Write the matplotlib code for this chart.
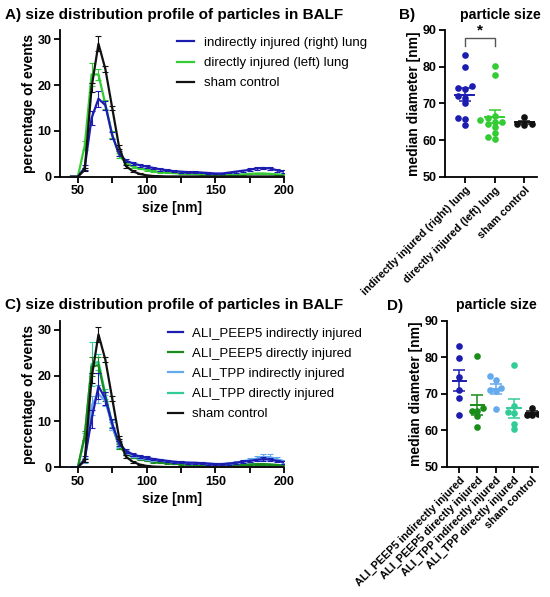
import numpy as np
import matplotlib
matplotlib.use("Agg")
import matplotlib.pyplot as plt

plt.rcParams["font.family"] = ["Liberation Sans", "DejaVu Sans"]
plt.rcParams["font.weight"] = "bold"
plt.rcParams["axes.labelweight"] = "bold"

# ---- data -------------------------------------------------------------
size_nm = np.arange(45, 201, 5)

# panel A: % of events (mean, SEM)
a_indirect = [0, 0, 2.0, 12.8, 17.0, 15.6, 9.0, 5.0, 3.5, 2.9, 2.5, 2.2, 1.9, 1.6, 1.4, 1.2,
              1.1, 1.0, 1.0, 0.9, 0.8, 0.7, 0.7, 0.9, 1.1, 1.3, 1.5, 1.8, 1.9, 1.8, 1.4, 1.1]
a_indirect_err = [0, 0, 0.5, 1.5, 1.7, 1.0, 0.8, 0.5, 0.4, 0.3, 0.3, 0.3, 0.3, 0.3, 0.2, 0.2,
                  0.2, 0.2, 0.2, 0.2, 0.2, 0.2, 0.2, 0.2, 0.2, 0.2, 0.3, 0.3, 0.3, 0.3, 0.3, 0.3]
a_direct = [0, 0, 6.8, 22.3, 22.3, 15.8, 9.2, 4.6, 3.0, 2.2, 1.8, 1.5, 1.2, 1.0, 0.9, 0.8,
            0.7, 0.6, 0.6, 0.5, 0.5, 0.5, 0.4, 0.4, 0.5, 0.5, 0.6, 0.7, 0.7, 0.6, 0.5, 0.4]
a_direct_err = [0, 0, 1.0, 2.5, 1.3, 1.0, 0.8, 0.5, 0.3, 0.2, 0.2, 0.2, 0.2, 0.1, 0.1, 0.1,
                0.1, 0.1, 0.1, 0.1, 0.1, 0.1, 0.1, 0.1, 0.1, 0.1, 0.1, 0.1, 0.1, 0.1, 0.1, 0.1]
sham = [0, 0, 1.5, 19.5, 29.0, 23.5, 15.0, 6.5, 2.3, 1.2, 0.6, 0.3, 0.15, 0.1, 0.05, 0.05,
        0.05, 0.05, 0.05, 0.05, 0.05, 0.05, 0.05, 0.05, 0.05, 0.05, 0.05, 0.05, 0.05, 0.05, 0.05, 0.05]
sham_err = [0, 0, 0.3, 1.0, 1.6, 0.6, 0.5, 0.4, 0.3, 0.2, 0.1, 0.1, 0.05, 0.05, 0.05, 0.05,
            0.05, 0.05, 0.05, 0.05, 0.05, 0.05, 0.05, 0.05, 0.05, 0.05, 0.05, 0.05, 0.05, 0.05, 0.05, 0.05]

# panel C
peep5_ind = [0, 0, 1.8, 10.5, 17.7, 15.0, 9.5, 5.2, 3.6, 2.8, 2.4, 2.1, 1.8, 1.6, 1.4, 1.2,
             1.1, 1.0, 1.0, 0.9, 0.8, 0.7, 0.7, 0.8, 1.0, 1.2, 1.4, 1.6, 1.8, 1.7, 1.4, 1.1]
peep5_ind_err = [0, 0, 0.6, 2.0, 2.8, 1.5, 1.0, 0.6, 0.4, 0.4, 0.3, 0.3, 0.3, 0.3, 0.2, 0.2,
                 0.2, 0.2, 0.2, 0.2, 0.2, 0.2, 0.2, 0.2, 0.2, 0.3, 0.3, 0.3, 0.4, 0.4, 0.3, 0.3]
peep5_dir = [0, 0, 7.0, 22.0, 22.3, 15.5, 9.0, 4.6, 3.0, 2.2, 1.8, 1.5, 1.2, 1.0, 0.9, 0.8,
             0.7, 0.6, 0.6, 0.5, 0.5, 0.5, 0.4, 0.4, 0.5, 0.5, 0.6, 0.7, 0.7, 0.6, 0.5, 0.4]
peep5_dir_err = [0, 0, 1.0, 2.0, 1.8, 1.0, 0.8, 0.5, 0.3, 0.2, 0.2, 0.2, 0.2, 0.1, 0.1, 0.1,
                 0.1, 0.1, 0.1, 0.1, 0.1, 0.1, 0.1, 0.1, 0.1, 0.1, 0.1, 0.1, 0.1, 0.1, 0.1, 0.1]
tpp_ind = [0, 0, 1.5, 13.5, 16.0, 14.5, 9.0, 5.0, 3.4, 2.6, 2.2, 1.9, 1.7, 1.5, 1.3, 1.2,
           1.1, 1.0, 0.9, 0.9, 0.8, 0.7, 0.7, 0.8, 1.0, 1.3, 1.6, 1.9, 2.3, 2.2, 1.8, 1.3]
tpp_ind_err = [0, 0, 0.5, 2.0, 2.0, 1.2, 0.8, 0.5, 0.4, 0.3, 0.3, 0.3, 0.3, 0.2, 0.2, 0.2,
               0.2, 0.2, 0.2, 0.2, 0.2, 0.2, 0.2, 0.3, 0.3, 0.4, 0.5, 0.6, 0.7, 0.7, 0.5, 0.4]
tpp_dir = [0, 0, 6.5, 22.5, 23.0, 16.0, 9.5, 4.8, 3.2, 2.4, 1.9, 1.6, 1.3, 1.1, 1.0, 0.9,
           0.8, 0.7, 0.6, 0.6, 0.5, 0.5, 0.5, 0.5, 0.5, 0.6, 0.6, 0.7, 0.7, 0.6, 0.5, 0.4]
tpp_dir_err = [0, 0, 1.0, 4.8, 1.8, 1.2, 0.8, 0.5, 0.3, 0.3, 0.2, 0.2, 0.2, 0.1, 0.1, 0.1,
               0.1, 0.1, 0.1, 0.1, 0.1, 0.1, 0.1, 0.1, 0.1, 0.1, 0.1, 0.1, 0.1, 0.1, 0.1, 0.1]

# panel B: median diameter per animal [nm]
b_labels = ["indirectly injured (right) lung", "directly injured (left) lung", "sham control"]
b_indirect = [83.2, 79.8, 74.8, 74.3, 73.8, 72.0, 71.5, 70.0, 66.0, 65.7, 64.2]
b_direct = [80.2, 77.8, 66.5, 65.9, 65.5, 65.0, 64.8, 64.5, 63.5, 62.0, 60.7, 60.3]
b_sham = [66.2, 64.5, 64.3, 64.2]

# panel D
d_labels = ["ALI_PEEP5 indirectly injured", "ALI_PEEP5 directly injured",
            "ALI_TPP indirectly injured", "ALI_TPP directly injured", "sham control"]
d_peep5_ind = [83.2, 79.8, 74.5, 71.0, 68.8, 64.2]
d_peep5_dir = [80.2, 66.0, 65.2, 65.2, 63.8, 60.8]
d_tpp_ind = [74.8, 73.8, 71.5, 71.0, 70.8, 65.9]
d_tpp_dir = [77.8, 66.6, 65.0, 64.6, 61.8, 60.2]
d_sham = [66.2, 64.5, 64.3, 64.2]

BLUE = "#1c1cb0"
GREEN = "#33cc33"
DKGREEN = "#1a8c1a"
LTBLUE = "#66aaee"
TEAL = "#33cc99"
BLACK = "#111111"


def style_axis(ax):
    for s in ["top", "right"]:
        ax.spines[s].set_visible(False)
    for s in ["left", "bottom"]:
        ax.spines[s].set_linewidth(1.3)
    ax.tick_params(which="both", width=1.3, length=4.5, labelsize=9, pad=1.5)
    for lab in ax.get_xticklabels() + ax.get_yticklabels():
        lab.set_fontweight("bold")


def curve_panel(ax, series):
    for y, err, color, label, z in series:
        ax.plot(size_nm, y, color=color, lw=1.6, label=label, zorder=z)
        ax.errorbar(size_nm, y, yerr=err, fmt="none", ecolor=color, elinewidth=0.8,
                    capsize=2.2, capthick=0.8, zorder=z)
    ax.set_xlim(37, 200)
    ax.set_ylim(0, 32)
    ax.set_xticks([50, 100, 150, 200])
    ax.set_xticks([75, 125, 175], minor=True)
    ax.set_yticks([0, 10, 20, 30])
    ax.set_xlabel("size [nm]", fontsize=10, labelpad=3)
    ax.set_ylabel("percentage of events", fontsize=10, labelpad=1)
    style_axis(ax)


def swarm(vals, step, thr):
    vals = np.asarray(vals, float)
    offs = np.zeros(len(vals))
    placed = []
    for i in np.argsort(vals):
        for k in [0, -1, 1, -2, 2, -3, 3]:
            o = k * step
            if all(abs(vals[i] - pv) > thr or abs(o - po) > step * 0.9 for pv, po in placed):
                offs[i] = o
                placed.append((vals[i], o))
                break
    return offs


def dot_panel(ax, groups, colors, labels, step, halfw, ms):
    for i, (vals, c) in enumerate(zip(groups, colors)):
        vals = np.asarray(vals)
        ax.plot(i + swarm(vals, step, 1.3), vals, "o", color=c, ms=ms, mec="none", zorder=3)
        m = vals.mean()
        sem = vals.std(ddof=1) / np.sqrt(len(vals))
        ax.plot([i - halfw, i + halfw], [m, m], color=c, lw=1.4, zorder=4)
        ax.errorbar([i], [m], yerr=[sem], fmt="none", ecolor=c, elinewidth=1.1,
                    capsize=4, capthick=1.1, zorder=4)
    ax.set_ylim(50, 90)
    ax.set_yticks([50, 60, 70, 80, 90])
    ax.set_xticks(range(len(labels)))
    ax.set_ylabel("median diameter [nm]", fontsize=10, labelpad=1)
    style_axis(ax)
    ax.set_xticklabels(labels, rotation=45, ha="right", rotation_mode="anchor",
                       fontsize=7.8, fontweight="bold")


fig = plt.figure(figsize=(5.5, 5.97), dpi=100)
W, H = 550, 597


def add_axes(l, r, t, b):
    return fig.add_axes([l / W, 1 - b / H, (r - l) / W, (b - t) / H])


axA = add_axes(60, 284, 30, 176.7)
curve_panel(axA, [
    (a_indirect, a_indirect_err, BLUE, "indirectly injured (right) lung", 3),
    (a_direct, a_direct_err, GREEN, "directly injured (left) lung", 2),
    (sham, sham_err, BLACK, "sham control", 4),
])
axA.legend(loc="upper left", bbox_to_anchor=(0.47, 1.035), frameon=False,
           handlelength=1.3, handletextpad=0.7, labelspacing=0.6,
           prop={"weight": "normal", "size": 9.5})

axC = add_axes(60, 284, 320.7, 467.3)
curve_panel(axC, [
    (peep5_ind, peep5_ind_err, BLUE, "ALI_PEEP5 indirectly injured", 6),
    (peep5_dir, peep5_dir_err, DKGREEN, "ALI_PEEP5 directly injured", 3),
    (tpp_ind, tpp_ind_err, LTBLUE, "ALI_TPP indirectly injured", 5),
    (tpp_dir, tpp_dir_err, TEAL, "ALI_TPP directly injured", 2),
    (sham, sham_err, BLACK, "sham control", 7),
])
axC.legend(loc="upper left", bbox_to_anchor=(0.43, 1.035), frameon=False,
           handlelength=1.1, handletextpad=0.7, labelspacing=0.6,
           prop={"weight": "normal", "size": 9.5})

axB = add_axes(445, 537, 30, 176.7)
dot_panel(axB, [b_indirect, b_direct, b_sham], [BLUE, GREEN, BLACK], b_labels,
          step=0.24, halfw=0.32, ms=4.8)
axB.set_xlim(-0.67, 2.42)
axB.plot([0, 0, 1, 1], [85.6, 87.9, 87.9, 85.6], color="#555555", lw=1.0, clip_on=False)
axB.text(0.5, 88.0, "*", ha="center", va="bottom", fontsize=11)

axD = add_axes(446.7, 538, 320.7, 466.7)
dot_panel(axD, [d_peep5_ind, d_peep5_dir, d_tpp_ind, d_tpp_dir, d_sham],
          [BLUE, DKGREEN, LTBLUE, TEAL, BLACK], d_labels, step=0.3, halfw=0.36, ms=4.8)
axD.set_xlim(-0.69, 4.32)

fig.text(5 / W, 1 - 15 / H, "A) size distribution profile of particles in BALF",
         fontsize=11, va="center")
fig.text(5 / W, 1 - 305 / H, "C) size distribution profile of particles in BALF",
         fontsize=11, va="center")
fig.text(399 / W, 1 - 15 / H, "B)", fontsize=11, va="center")
fig.text(387 / W, 1 - 306 / H, "D)", fontsize=11, va="center")
fig.text(500 / W, 1 - 15 / H, "particle size", fontsize=10.2, va="center", ha="center")
fig.text(496 / W, 1 - 305 / H, "particle size", fontsize=10.2, va="center", ha="center")

fig.savefig("out.png", dpi=100)
